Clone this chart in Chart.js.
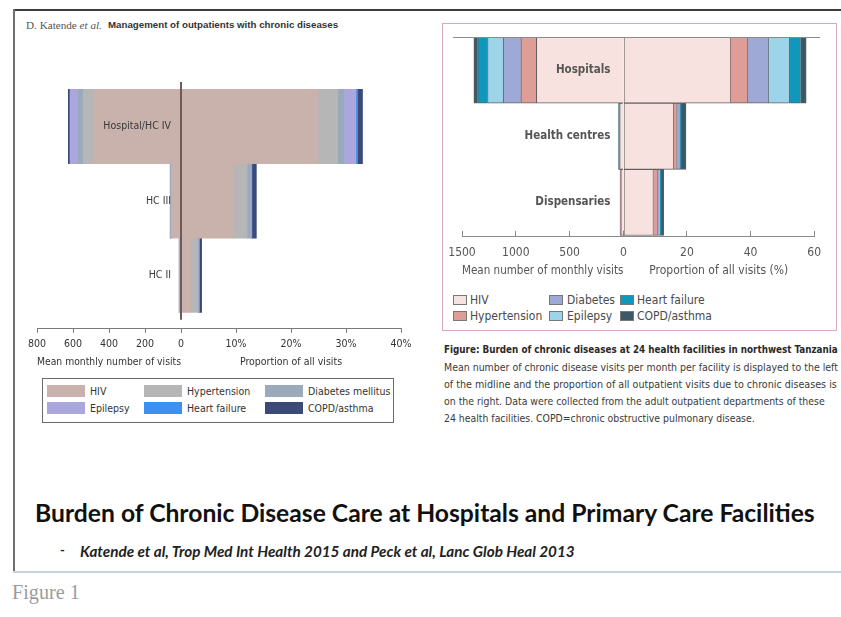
<!DOCTYPE html>
<html>
<head>
<meta charset="utf-8">
<script src="https://cdn.jsdelivr.net/npm/chart.js"></script>
<style>
html,body{margin:0;padding:0;background:#fff;}
body{width:841px;height:617px;position:relative;overflow:hidden;}
.abs{position:absolute;white-space:nowrap;}
.fit{display:inline-block;}
.narrow{font-family:'Liberation Sans Narrow','DejaVu Sans Condensed','Roboto Condensed','Liberation Sans',sans-serif;}
canvas{position:absolute;}
</style>
</head>
<body>
<!-- slide frame -->
<div class="abs" style="left:13px;top:9px;width:828px;height:0;border-top:2px solid #3c3c3c"></div>
<div class="abs" style="left:13px;top:9px;width:0;height:563px;border-left:2px solid #707070"></div>
<div class="abs" style="left:13px;top:571px;width:828px;height:0;border-top:2px solid #c6d3df"></div>

<!-- left figure header -->
<div class="abs fit" data-w="76" style="left:26px;top:19px;font-family:'Liberation Serif',serif;font-size:9.5px;color:#555">D. Katende <i>et al.</i></div>
<div class="abs fit" data-w="230" style="left:108px;top:19px;font-family:'Liberation Sans',sans-serif;font-weight:bold;font-size:8.5px;color:#333">Management of outpatients with chronic diseases</div>

<canvas id="leftChart" width="410" height="311" style="left:14px;top:60px"></canvas>
<div id="leftLegend" class="abs narrow" style="left:42px;top:378px;width:350px;height:43px;border:1px solid #6a6a6a"></div>

<!-- right figure -->
<div class="abs" style="left:442px;top:23px;width:393px;height:306px;border:1px solid #dcaab6"></div>
<canvas id="rightChart" width="393" height="256" style="left:443px;top:24px"></canvas>
<div id="rightLegend" class="abs narrow" style="left:443px;top:290px;width:390px;height:36px"></div>

<div class="abs fit narrow" data-w="394" style="left:444px;top:344px;font-size:12px;font-weight:bold;color:#2a2a2a">Figure: Burden of chronic diseases at 24 health facilities in northwest Tanzania</div>
<div class="abs fit narrow" data-w="394" style="left:444px;top:361px;font-size:12px;color:#3a3a3a">Mean number of chronic disease visits per month per facility is displayed to the left</div>
<div class="abs fit narrow" data-w="393" style="left:444px;top:378px;font-size:12px;color:#3a3a3a">of the midline and the proportion of all outpatient visits due to chronic diseases is</div>
<div class="abs fit narrow" data-w="381" style="left:444px;top:395px;font-size:12px;color:#3a3a3a">on the right. Data were collected from the adult outpatient departments of these</div>
<div class="abs fit narrow" data-w="311" style="left:444px;top:412px;font-size:12px;color:#3a3a3a">24 health facilities. COPD=chronic obstructive pulmonary disease.</div>

<!-- slide text -->
<div class="abs fit" data-w="780" style="left:35px;top:498px;font-family:Lato,'Open Sans',sans-serif;font-weight:bold;font-size:21px;color:#111">Burden of Chronic Disease Care at Hospitals and Primary Care Facilities</div>
<div class="abs" style="left:60px;top:542px;font-family:Lato,sans-serif;font-weight:bold;font-size:13px;color:#222">-</div>
<div class="abs fit" data-w="495" style="left:80px;top:542px;font-family:Lato,sans-serif;font-weight:bold;font-style:italic;font-size:13px;color:#222">Katende et al, Trop Med Int Health 2015 and Peck et al, Lanc Glob Heal 2013</div>
<div class="abs fit" data-w="68" style="left:12px;top:581px;font-family:'Liberation Serif',serif;font-size:25px;color:#9c9c9c">Figure 1</div>

<script>
// ---------- LEFT FIGURE DATA (Katende et al.) ----------
const leftCategories = ['Hospital/HC IV', 'HC III', 'HC II'];
const leftSeriesNames = ['HIV', 'Hypertension', 'Diabetes mellitus', 'Epilepsy', 'Heart failure', 'COPD/asthma'];
const leftVisitTicks = [0, 200, 400, 600, 800];
const leftShareTicks = [0, 10, 20, 30, 40];
// mean monthly number of visits (left of midline)
const leftVisitsHIV = [483, 48, 6];
const leftVisitsHypertension = [60, 7, 2];
const leftVisitsDiabetes = [28, 2, 1];
const leftVisitsEpilepsy = [44, 2, 0.5];
const leftVisitsHeartFailure = [3, 0.3, 0.2];
const leftVisitsCOPD = [8, 0.7, 0.3];
// proportion of all visits, % (right of midline)
const leftShareHIV = [24.9, 9.5, 1.8];
const leftShareHypertension = [3.6, 2.5, 1.2];
const leftShareDiabetes = [1.1, 0.6, 0.2];
const leftShareEpilepsy = [2.2, 0.2, 0.1];
const leftShareHeartFailure = [0.3, 0.1, 0.05];
const leftShareCOPD = [0.9, 0.8, 0.4];

// ---------- RIGHT FIGURE DATA (Peck et al.) ----------
const rightCategories = ['Hospitals', 'Health centres', 'Dispensaries'];
const rightSeriesNames = ['HIV', 'Hypertension', 'Diabetes', 'Epilepsy', 'Heart failure', 'COPD/asthma'];
const rightVisitTicks = [0, 500, 1000, 1500];
const rightShareTicks = [0, 20, 40, 60];
const rightVisitsHIV = [809, 35, 24];
const rightVisitsHypertension = [145, 5, 3];
const rightVisitsDiabetes = [164, 2, 1.5];
const rightVisitsEpilepsy = [145, 2, 1];
const rightVisitsHeartFailure = [91, 0.5, 0.3];
const rightVisitsCOPD = [36, 0.5, 0.2];
const rightShareHIV = [33.5, 15.7, 9.2];
const rightShareHypertension = [5.5, 1.0, 1.5];
const rightShareDiabetes = [6.5, 0.9, 0.5];
const rightShareEpilepsy = [6.5, 0.2, 0.3];
const rightShareHeartFailure = [3.7, 0.3, 0.4];
const rightShareCOPD = [1.8, 1.6, 0.8];

// ---------- styles ----------
const leftColors = ['#c9b1ac', '#b6b6b6', '#9aaaba', '#aba7dd', '#3d8ff0', '#3c4a78'];
const rightColors = ['#f8e2df', '#de9d97', '#9fa9d6', '#9ed4ea', '#1097bb', '#3c5867'];
const NARROW = "'Liberation Sans Narrow','DejaVu Sans Condensed','Roboto Condensed','Liberation Sans',sans-serif";

function buildDatasets(visitSeries, shareSeries, names, colors, bordered) {
  const out = [];
  const last = names.length - 1;
  const mk = (vals, k, axis) => {
    const ds = {
      label: names[k], xAxisID: axis, yAxisID: 'y', stack: 's',
      backgroundColor: colors[k],
      data: vals.map((v, i) => ({x: v, y: i}))
    };
    if (bordered) {
      ds.borderColor = '#5f5f5f';
      ds.borderSkipped = false;
      ds.borderWidth = {top: 1, bottom: 1, left: 1, right: (axis === 'xr' && k === last) ? 1 : 0};
    } else {
      ds.borderWidth = 0;
    }
    return ds;
  };
  visitSeries.forEach((vals, k) => out.push(mk(vals, k, 'xl')));
  shareSeries.forEach((vals, k) => out.push(mk(vals, k, 'xr')));
  return out;
}

function tickSetter(arr) {
  return (scale) => { scale.ticks = arr.map(v => ({value: v})); };
}

function midPlugin(cfg) {
  return {
    id: 'mid_' + cfg.name,
    afterDatasetsDraw(chart) {
      const {ctx, chartArea} = chart;
      const xs = chart.scales.xl, ys = chart.scales.y;
      const x0 = xs.getPixelForValue(0);
      ctx.save();
      if (cfg.midline) {
        ctx.strokeStyle = cfg.midline;
        ctx.lineWidth = 2;
        ctx.beginPath();
        ctx.moveTo(x0, chartArea.top);
        ctx.lineTo(x0, chartArea.bottom - 9);
        ctx.stroke();
      }
      if (cfg.topRule) {
        ctx.strokeStyle = cfg.topRule;
        ctx.lineWidth = 1;
        ctx.beginPath();
        ctx.moveTo(chartArea.left - 9, chartArea.top + 0.5);
        ctx.lineTo(chartArea.right + 6, chartArea.top + 0.5);
        ctx.stroke();
      }
      ctx.font = cfg.font;
      ctx.fillStyle = cfg.color;
      ctx.textAlign = 'right';
      ctx.textBaseline = 'middle';
      cfg.labels.forEach((t, i) => ctx.fillText(t, x0 - cfg.gap, ys.getPixelForValue(i)));
      ctx.restore();
    }
  };
}

function axisX(opts) {
  return {
    type: 'linear', position: 'bottom', stack: 'bottomPair', stackWeight: opts.weight,
    reverse: !!opts.reverse, stacked: true,
    min: opts.ticks[0], max: opts.ticks[opts.ticks.length - 1],
    afterBuildTicks: tickSetter(opts.ticks),
    grid: {display: true, drawOnChartArea: false, drawTicks: true, tickLength: opts.tickLength, color: opts.lineColor},
    border: {display: true, color: opts.lineColor, width: 1},
    ticks: {padding: opts.padding, color: opts.textColor, font: {family: NARROW, size: opts.size}, maxRotation: 0, autoSkip: false,
            callback: opts.callback},
    title: {display: true, text: opts.title, color: opts.textColor, font: {family: NARROW, size: opts.size}, padding: {top: opts.titleTop, bottom: 2}}
  };
}

function axisY(cats, min, max) {
  return {type: 'linear', display: false, reverse: true, stacked: true, offset: false, min: min, max: max,
          afterBuildTicks: tickSetter(cats.map((c, i) => i))};
}

// ---------- left chart ----------
new Chart(document.getElementById('leftChart'), {
  type: 'bar',
  data: {
    datasets: buildDatasets(
      [leftVisitsHIV, leftVisitsHypertension, leftVisitsDiabetes, leftVisitsEpilepsy, leftVisitsHeartFailure, leftVisitsCOPD],
      [leftShareHIV, leftShareHypertension, leftShareDiabetes, leftShareEpilepsy, leftShareHeartFailure, leftShareCOPD],
      leftSeriesNames, leftColors, false)
  },
  options: {
    responsive: false, animation: false, events: [], indexAxis: 'y',
    layout: {padding: {left: 23, right: 23, top: 22, bottom: 0}},
    datasets: {bar: {barPercentage: 1, categoryPercentage: 1}},
    plugins: {legend: {display: false}, tooltip: {enabled: false}},
    scales: {
      xl: axisX({weight: 144, reverse: true, ticks: leftVisitTicks, tickLength: 4, padding: 5, lineColor: '#7a7a7a', textColor: '#333', size: 10.5, titleTop: 1,
                 title: 'Mean monthly number of visits', callback: v => String(v)}),
      xr: axisX({weight: 220, ticks: leftShareTicks, tickLength: 4, padding: 5, lineColor: '#7a7a7a', textColor: '#333', size: 10.5, titleTop: 1,
                 title: 'Proportion of all visits', callback: v => v === 0 ? '' : v + '%'}),
      y: axisY(leftCategories, -0.6, 2.72)
    }
  },
  plugins: [midPlugin({name: 'l', labels: leftCategories, gap: 10, midline: '#6f5a58',
    font: "10.5px " + NARROW, color: '#3a3a3a'})]
});

// ---------- right chart ----------
new Chart(document.getElementById('rightChart'), {
  type: 'bar',
  data: {
    datasets: buildDatasets(
      [rightVisitsHIV, rightVisitsHypertension, rightVisitsDiabetes, rightVisitsEpilepsy, rightVisitsHeartFailure, rightVisitsCOPD],
      [rightShareHIV, rightShareHypertension, rightShareDiabetes, rightShareEpilepsy, rightShareHeartFailure, rightShareCOPD],
      rightSeriesNames, rightColors, true)
  },
  options: {
    responsive: false, animation: false, events: [], indexAxis: 'y',
    layout: {padding: {left: 19, right: 15, top: 13, bottom: 0}},
    datasets: {bar: {barPercentage: 1, categoryPercentage: 1}},
    plugins: {legend: {display: false}, tooltip: {enabled: false}},
    scales: {
      xl: axisX({weight: 165, reverse: true, ticks: rightVisitTicks, tickLength: -6, padding: 15, lineColor: '#8a8a8a', textColor: '#555', size: 12, titleTop: -11.6,
                 title: 'Mean number of monthly visits', callback: v => String(v)}),
      xr: axisX({weight: 195, ticks: rightShareTicks, tickLength: -6, padding: 15, lineColor: '#8a8a8a', textColor: '#555', size: 12, titleTop: -11.6,
                 title: 'Proportion of all visits (%)', callback: v => v === 0 ? '' : String(v)}),
      y: axisY(rightCategories, -0.5, 2.52)
    }
  },
  plugins: [midPlugin({name: 'r', labels: rightCategories, gap: 13, topRule: '#8a8a8a',
    font: "600 11.5px " + NARROW, color: '#555'})]
});

// ---------- HTML legends ----------
function addLegend(host, names, colors, place, sw) {
  names.forEach((n, i) => {
    const p = place(i);
    const s = document.createElement('div');
    s.style.cssText = `position:absolute;left:${p.sx}px;top:${p.y}px;width:${sw.w}px;height:${sw.h}px;background:${colors[i]};${sw.border ? 'box-sizing:border-box;border:1px solid ' + sw.border + ';' : ''}`;
    host.appendChild(s);
    const t = document.createElement('div');
    t.textContent = n;
    t.style.cssText = `position:absolute;left:${p.tx}px;top:${p.y + sw.h / 2}px;transform:translateY(-50%);font-size:${sw.font}px;color:${sw.color};white-space:nowrap;`;
    host.appendChild(t);
  });
}
const lcolS = [4, 101, 222], lcolT = [47, 144, 265], lrow = [6, 23];
addLegend(document.getElementById('leftLegend'), leftSeriesNames, leftColors,
  i => ({sx: lcolS[i % 3], tx: lcolT[i % 3], y: lrow[Math.floor(i / 3)]}),
  {w: 38, h: 12, font: 10.5, color: '#333'});
const rcolS = [10, 106, 177], rcolT = [27, 124, 194], rrow = [5, 21];
addLegend(document.getElementById('rightLegend'), rightSeriesNames, rightColors,
  i => ({sx: rcolS[Math.floor(i / 2)], tx: rcolT[Math.floor(i / 2)], y: rrow[i % 2]}),
  {w: 14, h: 10, font: 12, color: '#4a4a4a', border: '#777'});

// ---------- fit text widths ----------
document.querySelectorAll('.fit').forEach(el => {
  const target = parseFloat(el.dataset.w);
  const fs = parseFloat(getComputedStyle(el).fontSize);
  const w = el.getBoundingClientRect().width;
  if (w > 0) el.style.fontSize = (fs * target / w).toFixed(2) + 'px';
});
</script>
</body>
</html>
